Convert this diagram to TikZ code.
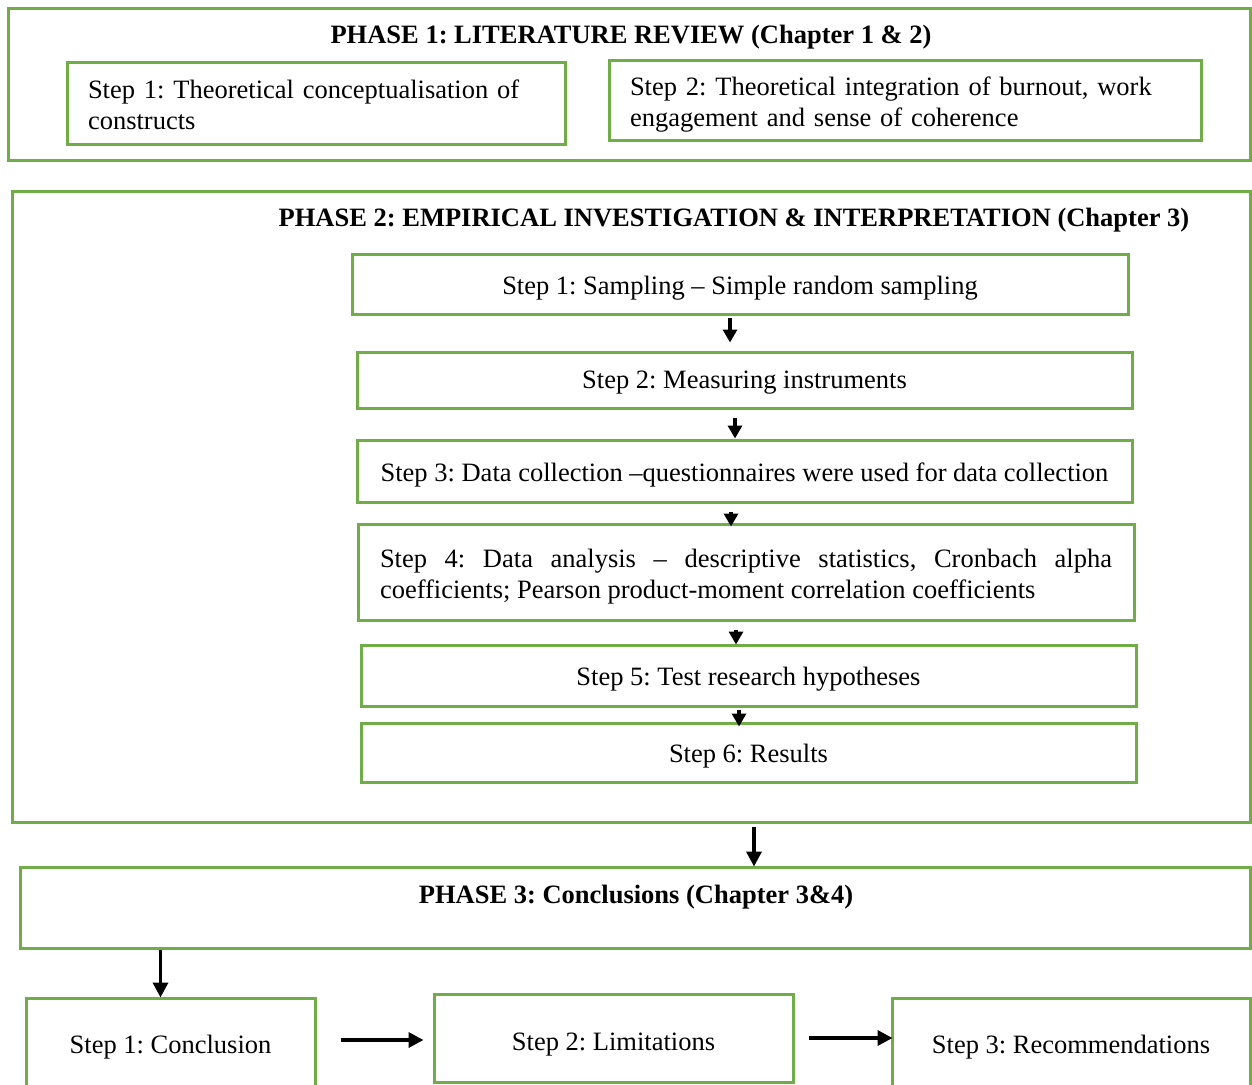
\documentclass[tikz,border=0pt]{standalone}
\usepackage{fontspec}
\setmainfont{Liberation Serif}
\usetikzlibrary{arrows.meta}
\definecolor{boxgreen}{HTML}{70AD47}
\begin{document}
\frenchspacing
\begin{tikzpicture}[x=1pt,y=-1pt,
  font=\fontsize{26.5}{31.5}\selectfont,
  frame/.style={draw=boxgreen, line width=3pt, inner sep=0pt},
  stepbox/.style={frame, minimum width=776pt, align=center, text height=26pt, text depth=6pt},
  sidebox/.style={frame, inner xsep=21pt, align=left},
  title/.style={font=\fontsize{26.5}{31.5}\selectfont\bfseries, inner sep=0pt},
  arr/.style={draw=black, line width=3.5pt, -{Triangle[length=15pt,width=15pt]}},
  smallarr/.style={draw=black, line width=3.3pt, -{Triangle[length=13pt,width=14pt]}},
]
\useasboundingbox (0,0) rectangle (1252,1084);
\clip (0,0) rectangle (1252,1084);

% Phase 1
\node[frame, minimum width=1242pt, minimum height=152pt] (p1) at (629,84) {};
\node[title] (p1t) at (631,37) {PHASE 1: LITERATURE REVIEW (Chapter 1 \& 2)};
\node[sidebox, text width=456pt, text height=22pt, minimum height=82pt] (a1) at (316,103)
  {Step 1: Theoretical conceptualisation of\\constructs};
\node[sidebox, text width=550pt, text height=28pt, minimum height=80pt] (a2) at (905,100)
  {Step 2: Theoretical integration of burnout, work\\engagement and sense of coherence};

% Phase 2
\node[frame, minimum width=1238pt, minimum height=631pt] (p2) at (631,506.5) {};
\node[title] (p2t) at (734,220) {PHASE 2: EMPIRICAL INVESTIGATION \& INTERPRETATION (Chapter 3)};
\node[stepbox, minimum height=60pt] (s1) at (740,284) {Step 1: Sampling -- Simple random sampling};
\node[stepbox, minimum width=775pt, minimum height=56pt, text height=22pt] (s2) at (744.5,380) {Step 2: Measuring instruments};
\node[stepbox, minimum width=775pt, minimum height=62pt] (s3) at (744.5,471) {Step 3: Data collection --questionnaires were used for data collection};
\node[frame, text width=732pt, inner xsep=22pt, minimum height=96pt, align=justify, text height=28pt] (s4) at (746,572)
  {Step 4: Data analysis -- descriptive statistics, Cronbach alpha\linebreak coefficients; Pearson product-moment correlation coefficients};
\node[stepbox, minimum width=775pt, minimum height=61pt] (s5) at (748.5,675.5) {Step 5: Test research hypotheses};
\node[stepbox, minimum width=775pt, minimum height=59pt] (s6) at (748.5,752.5) {Step 6: Results};

\draw[smallarr, shorten <=2pt, shorten >=8pt] ([xshift=-10pt]s1.south) -- ([xshift=-10pt]s1.south |- s2.north);
\draw[smallarr, shorten <=8pt, shorten >=0pt] ([xshift=-9.5pt]s2.south) -- ([xshift=-9.5pt]s2.south |- s3.north);
\draw[smallarr, shorten <=8pt, shorten >=-4pt] ([xshift=-13.5pt]s3.south) -- ([xshift=-13.5pt]s3.south |- s4.north);
\draw[smallarr, shorten <=8pt, shorten >=-1pt] ([xshift=-10pt]s4.south) -- ([xshift=-10pt]s4.south |- s5.north);
\draw[smallarr, shorten <=2pt, shorten >=-5pt] ([xshift=-9.5pt]s5.south) -- ([xshift=-9.5pt]s5.south |- s6.north);

% Phase 3
\node[frame, minimum width=1230pt, minimum height=81pt] (p3) at (635,907.5) {};
\node[title] (p3t) at (636,897) {PHASE 3: Conclusions (Chapter 3\&4)};
\node[frame, minimum width=289pt, minimum height=98pt] (c1) at (170.5,1047) {Step 1: Conclusion};
\node[frame, minimum width=359pt, minimum height=88pt, text height=30pt, text depth=6pt] (c2) at (613.5,1038) {Step 2: Limitations};
\node[frame, minimum width=358pt, minimum height=98pt] (c3) at (1071,1047) {Step 3: Recommendations};

\draw[arr, shorten <=3pt, shorten >=-1pt] ([xshift=123pt]p2.south) -- ([xshift=123pt]p2.south |- p3.north);
\draw[arr, shorten >=-1pt] ([xshift=-10pt]c1.north |- p3.south) -- ([xshift=-10pt]c1.north);
\draw[arr, shorten <=24pt, shorten >=9pt] ([yshift=7pt]c1.east) -- ([yshift=7pt]c1.east -| c2.west);
\draw[arr, shorten <=14pt, shorten >=-2pt] (c2.east) -- (c2.east -| c3.west);
\end{tikzpicture}
\end{document}
